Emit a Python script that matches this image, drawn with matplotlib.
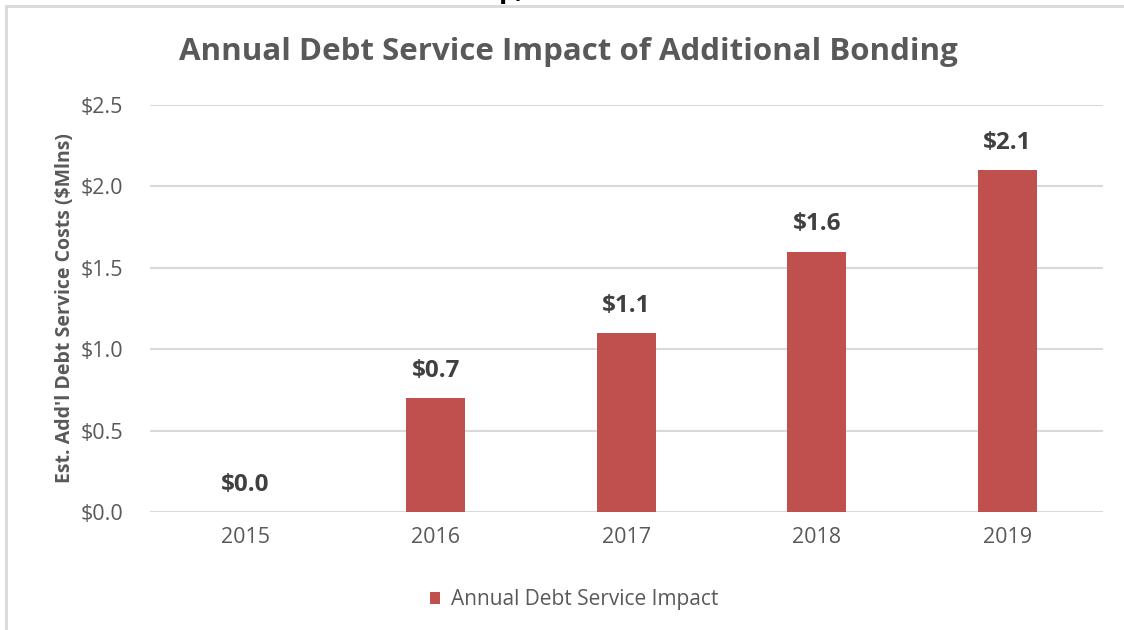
import numpy as np
import matplotlib.pyplot as plt
from matplotlib.lines import Line2D

plt.rcParams['font.family'] = ['Open Sans', 'DejaVu Sans']

# Annual debt service impact ($ millions)
years = ['2015', '2016', '2017', '2018', '2019']
impact = [0.0, 0.7, 1.1, 1.6, 2.1]
y_ticks = [0.0, 0.5, 1.0, 1.5, 2.0, 2.5]

bar_color = '#c0504d'
grid_color = '#d9d9d9'
text_gray = '#595959'

fig = plt.figure(figsize=(11.24, 6.3), dpi=100)
ax = fig.add_axes([0.1335, 0.1873, 0.8475, 0.646])

x = np.arange(len(years))
bars = ax.bar(x, impact, width=0.31, color=bar_color, zorder=3,
              label='Annual Debt Service Impact')

for xi, v in zip(x, impact):
    ax.annotate(f'${v:.1f}', (xi, v), xytext=(0, 11), textcoords='offset points',
                ha='center', va='bottom', fontsize=17.5, fontweight='bold',
                color='#404040')

ax.set_xlim(-0.5, len(years) - 0.5)
ax.set_ylim(0, 2.5)
ax.set_yticks(y_ticks)
ax.set_yticklabels([f'${t:.1f}' for t in y_ticks])
ax.set_xticks(x)
ax.set_xticklabels(years)
ax.tick_params(length=0, labelsize=15.5, colors=text_gray, pad=11)
ax.tick_params(axis='y', pad=19.5)
ax.grid(axis='y', color=grid_color, linewidth=1.5, zorder=0)
for s in ax.spines.values():
    s.set_visible(False)

ax.set_ylabel("Est. Add'l Debt Service Costs ($Mlns)", fontsize=14,
              fontweight='bold', color=text_gray, labelpad=4)

fig.text(0.506, 0.918, 'Annual Debt Service Impact of Additional Bonding',
         ha='center', va='center', fontsize=22.5, fontweight='bold', color=text_gray)

# tail of the slide heading above the chart
fig.text(0.444, 1.004, 'p,', ha='left', va='baseline', fontsize=20,
         fontweight='bold', color='black')

ax.legend(loc='center', bbox_to_anchor=(0.445, -0.215), frameon=False,
          fontsize=15, labelcolor=text_gray, handlelength=0.5, handleheight=0.5,
          handletextpad=0.5)

# chart frame edges
fig.add_artist(Line2D([0.005, 1.0], [0.99, 0.99], color=grid_color, lw=2,
                      transform=fig.transFigure))
fig.add_artist(Line2D([0.0055, 0.0055], [0.0, 0.99], color=grid_color, lw=2,
                      transform=fig.transFigure))

fig.savefig('out.png', dpi=100)
